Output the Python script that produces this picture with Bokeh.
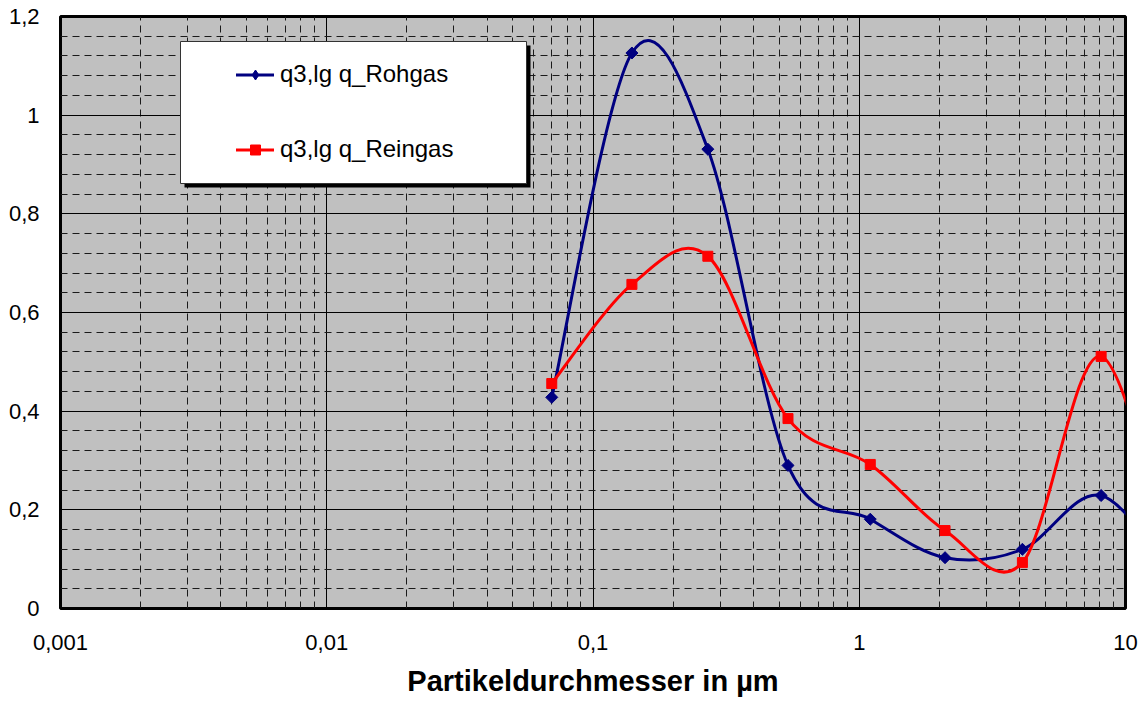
import numpy as np
from bokeh.plotting import figure
from bokeh.models import (FixedTicker, BoxAnnotation, Legend, LegendItem, ColumnDataSource, Range1d)
from bokeh.embed import file_html
from bokeh.resources import INLINE

# ---------------- data ----------------
diameter_um = [0.07, 0.14, 0.27, 0.54, 1.1, 2.1, 4.1, 8.1, 16.2]
q_rohgas = [0.428, 1.126, 0.931, 0.290, 0.181, 0.103, 0.120, 0.229, 0.04]
q_reingas = [0.456, 0.657, 0.714, 0.385, 0.292, 0.158, 0.093, 0.511, 0.0]

x_ticks = [0.001, 0.01, 0.1, 1, 10]
x_tick_labels = ["0,001", "0,01", "0,1", "1", "10"]
y_ticks = [0, 0.2, 0.4, 0.6, 0.8, 1.0, 1.2]
y_tick_labels = ["0", "0,2", "0,4", "0,6", "0,8", "1", "1,2"]
y_minor = [0.04, 0.08, 0.12, 0.16, 0.24, 0.28, 0.32, 0.36, 0.44, 0.48, 0.52, 0.56,
           0.64, 0.68, 0.72, 0.76, 0.84, 0.88, 0.92, 0.96, 1.04, 1.08, 1.12, 1.16]
x_minor = [m * d for d in [0.001, 0.01, 0.1, 1] for m in range(2, 10)]

label_roh = "q3,lg q_Rohgas"
label_rein = "q3,lg q_Reingas"
x_title = "Partikeldurchmesser in µm"

FONT = "Liberation Sans"
X0, X1, Y0, Y1 = 0.001, 10, 0, 1.2


def smooth_segments(xs, ys):
    """Catmull-Rom style Bezier control points (screen space: log x, linear y)."""
    lx = np.log10(np.asarray(xs, float))
    y = np.asarray(ys, float)
    n = len(lx)
    d = dict(x0=[], y0=[], x1=[], y1=[], cx0=[], cy0=[], cx1=[], cy1=[])
    for i in range(n - 1):
        a = max(i - 1, 0)
        b = min(i + 2, n - 1)
        d["x0"].append(10 ** lx[i]); d["y0"].append(y[i])
        d["x1"].append(10 ** lx[i + 1]); d["y1"].append(y[i + 1])
        d["cx0"].append(10 ** (lx[i] + (lx[i + 1] - lx[a]) / 6)); d["cy0"].append(y[i] + (y[i + 1] - y[a]) / 6)
        d["cx1"].append(10 ** (lx[i + 1] - (lx[b] - lx[i]) / 6)); d["cy1"].append(y[i + 1] - (y[b] - y[i]) / 6)
    return ColumnDataSource(d)


W, H = 1141, 700
FL, FR, FT, FB = 60, 1125, 16, 608   # plot-area edges in page pixels

p = figure(width=W, height=H, x_axis_type="log",
           x_range=Range1d(X0, X1), y_range=Range1d(Y0, Y1),
           output_backend="svg", toolbar_location=None,
           min_border_left=FL, min_border_right=W - FR, min_border_top=FT, min_border_bottom=H - FB)

p.background_fill_color = "#C0C0C0"
p.border_fill_color = "white"
p.outline_line_color = "black"
p.outline_line_width = 3

p.xaxis.ticker = FixedTicker(ticks=x_ticks, minor_ticks=x_minor)
p.yaxis.ticker = FixedTicker(ticks=y_ticks, minor_ticks=y_minor)
p.xaxis.major_label_overrides = dict(zip(x_ticks, x_tick_labels))
p.yaxis.major_label_overrides = dict(zip(y_ticks, y_tick_labels))

for ax in (p.xaxis, p.yaxis):
    ax.axis_line_color = None
    ax.major_tick_line_color = None
    ax.minor_tick_line_color = None
    ax.major_label_text_font = FONT
    ax.major_label_text_font_size = "22px"
    ax.major_label_text_color = "black"
p.xaxis.major_label_standoff = 20
p.yaxis.major_label_standoff = 15
p.xaxis.axis_label = x_title
p.xaxis.axis_label_text_font = FONT
p.xaxis.axis_label_text_font_size = "29px"
p.xaxis.axis_label_text_font_style = "bold"
p.xaxis.axis_label_text_color = "black"
p.xaxis.axis_label_standoff = 12

for g in (p.xgrid, p.ygrid):
    g.grid_line_color = "black"
    g.grid_line_width = 1
    g.minor_grid_line_color = "#1a1a1a"
    g.minor_grid_line_width = 1
    g.minor_grid_line_dash = "7 5"


def px2x(px):
    return 10 ** (np.log10(X0) + (np.log10(X1) - np.log10(X0)) * (px - FL) / (FR - FL))


def px2y(py):
    return Y0 + (Y1 - Y0) * (FB - py) / (FB - FT)


# legend frame + shadow
shadow = BoxAnnotation(left=px2x(184), right=px2x(530), top=px2y(45), bottom=px2y(187),
                       fill_color="black", fill_alpha=1, line_color=None)
box = BoxAnnotation(left=px2x(180), right=px2x(526), top=px2y(41), bottom=px2y(183),
                    fill_color="white", fill_alpha=1, line_color="#333333", line_width=1, line_alpha=1)
p.add_layout(shadow)
p.add_layout(box)

# series
src_roh = smooth_segments(diameter_um, q_rohgas)
src_rein = smooth_segments(diameter_um, q_reingas)

r_roh_line = p.bezier(x0="x0", y0="y0", x1="x1", y1="y1", cx0="cx0", cy0="cy0", cx1="cx1", cy1="cy1",
                      source=src_roh, line_color="#000080", line_width=3, line_cap="round")
r_rein_line = p.bezier(x0="x0", y0="y0", x1="x1", y1="y1", cx0="cx0", cy0="cy0", cx1="cx1", cy1="cy1",
                       source=src_rein, line_color="#FF0000", line_width=3, line_cap="round")
# diamond symbol (used by the legend key; sits under the rotated squares)
r_roh_key = p.scatter(diameter_um, q_rohgas, marker="diamond", size=10,
                      fill_color="#000080", line_color="#000080")
r_roh_pts = p.scatter(diameter_um, q_rohgas, marker="square", angle=np.pi / 4, size=8.5,
                      fill_color="#000080", line_color="#000080")
r_rein_pts = p.scatter(diameter_um, q_reingas, marker="square", size=10,
                       fill_color="#FF0000", line_color="#FF0000")

legend = Legend(items=[LegendItem(label=label_roh, renderers=[r_roh_line, r_roh_key]),
                       LegendItem(label=label_rein, renderers=[r_rein_line, r_rein_pts])],
                location=(176, 445), margin=0, padding=0,
                glyph_width=38, glyph_height=25, label_height=25, label_standoff=6, spacing=47,
                label_text_font=FONT, label_text_font_size="24px", label_text_color="black",
                background_fill_alpha=0, border_line_alpha=0)
p.add_layout(legend)

open("out.html", "w").write(file_html(p, INLINE))
